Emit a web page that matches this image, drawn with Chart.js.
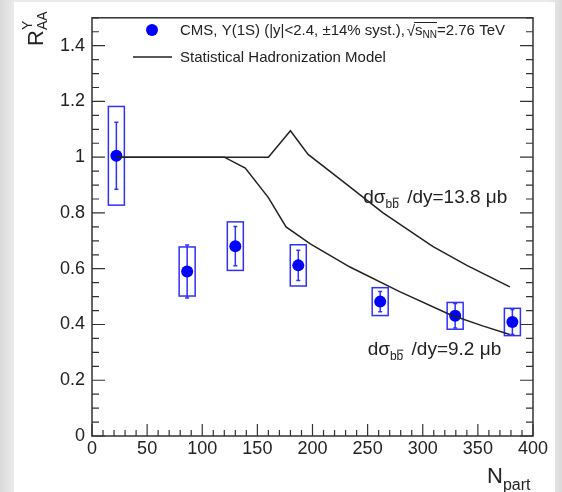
<!DOCTYPE html>
<html>
<head>
<meta charset="utf-8">
<script src="https://cdn.jsdelivr.net/npm/chart.js@4.4.1/dist/chart.umd.min.js"></script>
<style>
  html, body { margin: 0; padding: 0; }
  body {
    width: 562px; height: 492px; position: relative; overflow: hidden;
    background: linear-gradient(to right, #d9d9d9 0px, #ebebeb 14px, #ebebeb 548px, #dadada 562px);
  }
  #panel { position: absolute; left: 14px; top: 2px; width: 541px; height: 490px; background: #fff; }
  #wrap { position: absolute; left: 0; top: 0; width: 562px; height: 492px; }
</style>
</head>
<body>
<div id="panel"></div>
<div id="wrap"><canvas id="chart" width="562" height="492"></canvas></div>
<script>
    // CMS Y(1S) R_AA vs Npart
    const nPart   = [22.1, 86.3, 130.0, 187.1, 261.4, 329.4, 381.3];
    const rAA     = [1.005, 0.590, 0.681, 0.612, 0.482, 0.431, 0.409];
    const statErr = [0.120, 0.095, 0.070, 0.054, 0.036, 0.044, 0.045];
    const systErr = [0.177, 0.088, 0.087, 0.074, 0.050, 0.048, 0.049];

    // Statistical Hadronization Model curves
    const shmHighN = [22, 160, 180, 196, 222, 264, 309, 340, 379];
    const shmHighR = [1.0, 1.0, 1.095, 1.010, 0.930, 0.800, 0.680, 0.612, 0.535];
    const shmLowN  = [22, 120, 139, 160, 176, 198, 234, 279, 325, 355, 379];
    const shmLowR  = [1.0, 1.0, 0.961, 0.855, 0.750, 0.689, 0.606, 0.518, 0.435, 0.394, 0.364];

    const xTicks = [0, 50, 100, 150, 200, 250, 300, 350, 400];
    const yTicks = [0, 0.2, 0.4, 0.6, 0.8, 1, 1.2, 1.4];

    const FONT = '"Liberation Sans", Arial, Helvetica, sans-serif';
    const TXT = '#222';
    const BLUE = '#0000ff';

    function pts(xs, ys) {
        return xs.map((x, i) => ({ x: x, y: ys[i] }));
    }

    // boxes, error bars, frame, inward ticks, legend and labels
    const hepStyle = {
        id: 'hepStyle',
        beforeDatasetsDraw(chart) {
            const ctx = chart.ctx;
            const xs = chart.scales.x, ys = chart.scales.y;
            ctx.save();
            ctx.strokeStyle = '#3030ff';
            ctx.lineWidth = 1.5;
            nPart.forEach((n, i) => {
                const px = xs.getPixelForValue(n);
                const top = ys.getPixelForValue(rAA[i] + systErr[i]);
                const bot = ys.getPixelForValue(rAA[i] - systErr[i]);
                ctx.strokeRect(px - 8, top, 16, bot - top);
                const et = ys.getPixelForValue(rAA[i] + statErr[i]);
                const eb = ys.getPixelForValue(rAA[i] - statErr[i]);
                ctx.beginPath();
                ctx.moveTo(px, et); ctx.lineTo(px, eb);
                ctx.moveTo(px - 2, et); ctx.lineTo(px + 2, et);
                ctx.moveTo(px - 2, eb); ctx.lineTo(px + 2, eb);
                ctx.stroke();
            });
            ctx.restore();
        },
        afterDraw(chart) {
            const ctx = chart.ctx;
            const a = chart.chartArea;
            const xs = chart.scales.x, ys = chart.scales.y;
            ctx.save();

            // frame
            ctx.strokeStyle = '#333';
            ctx.lineWidth = 1.5;
            ctx.strokeRect(a.left, a.top, a.right - a.left, a.bottom - a.top);

            // ticks pointing inside
            ctx.lineWidth = 1.2;
            ctx.beginPath();
            for (let k = 0; k <= 30; k++) {
                const py = ys.getPixelForValue(k * 0.05);
                const len = (k % 4 === 0) ? 13 : 7;
                ctx.moveTo(a.left, py); ctx.lineTo(a.left + len, py);
                ctx.moveTo(a.right, py); ctx.lineTo(a.right - len, py);
            }
            for (let k = 0; k <= 40; k++) {
                const px = xs.getPixelForValue(k * 10);
                const len = (k % 5 === 0) ? 12 : 6;
                ctx.moveTo(px, a.bottom); ctx.lineTo(px, a.bottom - len);
            }
            ctx.stroke();

            ctx.textBaseline = 'alphabetic';
            ctx.textAlign = 'left';

            // legend
            ctx.fillStyle = BLUE;
            ctx.beginPath();
            ctx.arc(152, 30, 6, 0, Math.PI * 2);
            ctx.fill();
            ctx.strokeStyle = '#222';
            ctx.lineWidth = 1.5;
            ctx.beginPath();
            ctx.moveTo(133, 57); ctx.lineTo(172, 57);
            ctx.stroke();

            ctx.fillStyle = TXT;
            ctx.font = '15px ' + FONT;
            let x = 180;
            const s1 = 'CMS, \u03A5(1S) (|y|<2.4, \u00B114% syst.),';
            ctx.fillText(s1, x, 35);
            x += ctx.measureText(s1).width + 2;
            ctx.fillText('\u221A', x, 36);
            x += ctx.measureText('\u221A').width;
            const barStart = x;
            ctx.fillText('s', x, 35);
            x += ctx.measureText('s').width;
            ctx.font = '10px ' + FONT;
            ctx.fillText('NN', x, 38);
            x += ctx.measureText('NN').width;
            ctx.lineWidth = 1;
            ctx.beginPath();
            ctx.moveTo(barStart - 1, 22.5); ctx.lineTo(x, 22.5);
            ctx.stroke();
            ctx.font = '15px ' + FONT;
            ctx.fillText('=2.76 TeV', x, 35);
            ctx.fillText('Statistical Hadronization Model', 180, 62);

            // model annotations
            function sigmaLabel(nx, ry, rest) {
                let lx = xs.getPixelForValue(nx);
                const by = ys.getPixelForValue(ry);
                ctx.font = '19px ' + FONT;
                ctx.fillText('d\u03C3', lx, by);
                lx += ctx.measureText('d\u03C3').width;
                ctx.font = '12px ' + FONT;
                ctx.fillText('b', lx, by + 5);
                const bw = ctx.measureText('b').width;
                ctx.fillText('b', lx + bw, by + 5);
                ctx.lineWidth = 1;
                ctx.beginPath();
                ctx.moveTo(lx + bw + 0.5, by - 5); ctx.lineTo(lx + 2 * bw, by - 5);
                ctx.stroke();
                lx += 2 * bw + 3;
                ctx.font = '19px ' + FONT;
                ctx.fillText(rest, lx, by);
            }
            sigmaLabel(246, 0.835, ' /dy=13.8 \u03BCb');
            sigmaLabel(250, 0.290, ' /dy=9.2 \u03BCb');

            // x title
            ctx.font = '22px ' + FONT;
            ctx.fillText('N', 487, 483);
            const nw = ctx.measureText('N').width;
            ctx.font = '16px ' + FONT;
            ctx.fillText('part', 487 + nw, 490);

            // y title, rotated
            ctx.translate(43, 46);
            ctx.rotate(-Math.PI / 2);
            ctx.font = '22px ' + FONT;
            ctx.fillText('R', 0, 0);
            const rw = ctx.measureText('R').width;
            ctx.font = '14px ' + FONT;
            ctx.fillText('AA', rw, 4);
            ctx.fillText('\u03A5', rw, -11);

            ctx.restore();
        }
    };

    const ctx = document.getElementById('chart').getContext('2d');

    const chart = new Chart(ctx, {
        type: 'scatter',
        data: {
            datasets: [
                {
                    label: 'SHM 13.8',
                    data: pts(shmHighN, shmHighR),
                    showLine: true,
                    borderColor: '#222',
                    borderWidth: 1.5,
                    pointRadius: 0,
                    tension: 0
                },
                {
                    label: 'SHM 9.2',
                    data: pts(shmLowN, shmLowR),
                    showLine: true,
                    borderColor: '#222',
                    borderWidth: 1.5,
                    pointRadius: 0,
                    tension: 0
                },
                {
                    label: 'CMS',
                    data: pts(nPart, rAA),
                    backgroundColor: BLUE,
                    borderColor: BLUE,
                    pointRadius: 6,
                    borderWidth: 0
                }
            ]
        },
        options: {
            responsive: false,
            animation: false,
            layout: { padding: { left: 0, right: 29, top: 13, bottom: 0 } },
            plugins: {
                legend: { display: false },
                tooltip: { enabled: false }
            },
            scales: {
                x: {
                    type: 'linear',
                    min: 0,
                    max: 400,
                    grid: { display: false, drawTicks: false },
                    border: { display: false },
                    afterBuildTicks: (s) => { s.ticks = xTicks.map(v => ({ value: v })); },
                    afterFit: (s) => { s.height = 56; },
                    ticks: {
                        color: TXT,
                        padding: 2,
                        maxRotation: 0,
                        font: { family: FONT, size: 18 },
                        callback: (v) => String(v)
                    }
                },
                y: {
                    type: 'linear',
                    min: 0,
                    max: 1.5,
                    grid: { display: false, drawTicks: false },
                    border: { display: false },
                    afterBuildTicks: (s) => { s.ticks = yTicks.map(v => ({ value: v })); },
                    afterFit: (s) => { s.width = 92; },
                    ticks: {
                        color: TXT,
                        padding: 7,
                        font: { family: FONT, size: 18 },
                        callback: (v) => String(+v.toFixed(1))
                    }
                }
            }
        },
        plugins: [hepStyle]
    });
</script>
</body>
</html>
